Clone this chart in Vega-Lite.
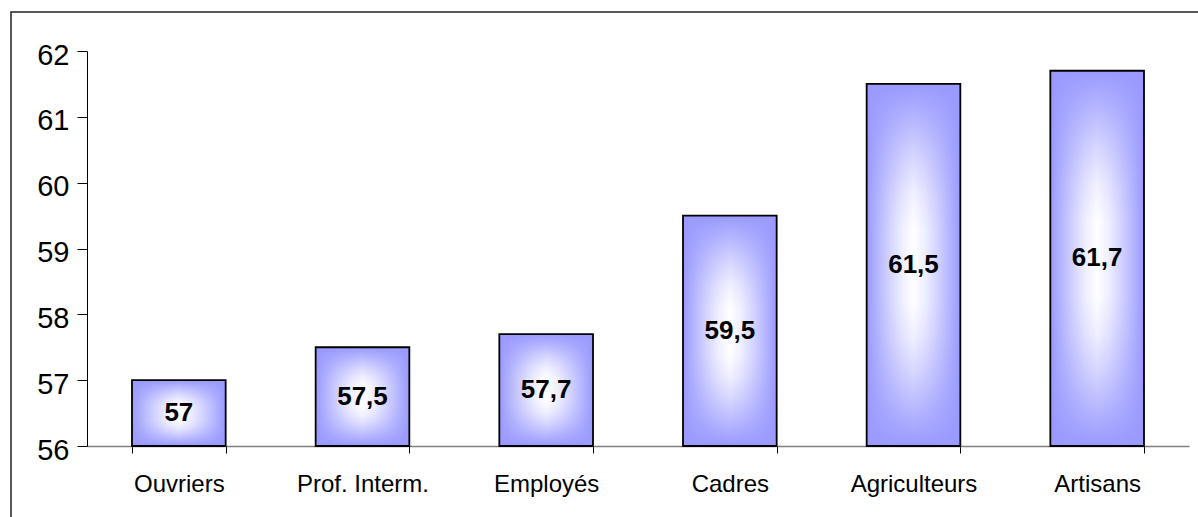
{
  "$schema": "https://vega.github.io/schema/vega-lite/v6.json",
  "autosize": "none",
  "width": 1191,
  "height": 509,
  "padding": {"left": 11, "top": 12, "right": -4, "bottom": -4},
  "background": "white",
  "config": {
    "view": {"stroke": "#222222", "strokeWidth": 1.5},
    "font": "Liberation Sans"
  },
  "data": {
    "values": [
      {"cat": "Ouvriers", "value": 57, "label": "57"},
      {"cat": "Prof. Interm.", "value": 57.5, "label": "57,5"},
      {"cat": "Employés", "value": 57.7, "label": "57,7"},
      {"cat": "Cadres", "value": 59.5, "label": "59,5"},
      {"cat": "Agriculteurs", "value": 61.5, "label": "61,5"},
      {"cat": "Artisans", "value": 61.7, "label": "61,7"}
    ]
  },
  "encoding": {
    "x": {
      "field": "cat",
      "type": "nominal",
      "sort": null,
      "scale": {"range": [76, 1178], "paddingInner": 0.49, "paddingOuter": 0.245},
      "axis": {
        "title": null,
        "offset": -75,
        "labelAngle": 0,
        "labelFontSize": 24,
        "labelColor": "black",
        "labelPadding": 19,
        "domainColor": "#808080",
        "domainWidth": 1.5,
        "tickColor": "black",
        "tickSize": 7,
        "tickWidth": 1,
        "tickBand": "extent",
        "grid": false
      }
    },
    "y": {
      "field": "value",
      "type": "quantitative",
      "scale": {"domain": [56, 62], "range": [434, 39], "nice": false, "zero": false},
      "axis": {
        "title": null,
        "offset": -76,
        "values": [56, 57, 58, 59, 60, 61, 62],
        "format": "d",
        "labelFontSize": 29,
        "labelColor": "black",
        "labelPadding": 8,
        "labelFlush": false,
        "labelOffset": 4,
        "domainColor": "black",
        "domainWidth": 1,
        "tickColor": "black",
        "tickSize": 10,
        "tickWidth": 1,
        "grid": false
      }
    }
  },
  "layer": [
    {
      "mark": {
        "type": "bar",
        "fill": {
          "gradient": "linear",
          "x1": 0, "y1": 0, "x2": 1, "y2": 0,
          "stops": [
            {"offset": 0, "color": "#9999ff"},
            {"offset": 0.125, "color": "#b7b7ff"},
            {"offset": 0.25, "color": "#d4d4ff"},
            {"offset": 0.375, "color": "#eeeeff"},
            {"offset": 0.5, "color": "#ffffff"},
            {"offset": 0.625, "color": "#eeeeff"},
            {"offset": 0.75, "color": "#d4d4ff"},
            {"offset": 0.875, "color": "#b7b7ff"},
            {"offset": 1, "color": "#9999ff"}
          ]
        },
        "strokeWidth": 0
      },
      "encoding": {"y2": {"datum": 56}}
    },
    {
      "mark": {
        "type": "bar",
        "fill": {
          "gradient": "linear",
          "x1": 0, "y1": 0, "x2": 0, "y2": 1,
          "stops": [
            {"offset": 0, "color": "rgba(153,153,255,1)"},
            {"offset": 0.1, "color": "rgba(153,153,255,0.7)"},
            {"offset": 0.2, "color": "rgba(153,153,255,0.4)"},
            {"offset": 0.3, "color": "rgba(153,153,255,0.15)"},
            {"offset": 0.4, "color": "rgba(153,153,255,0)"},
            {"offset": 0.6, "color": "rgba(153,153,255,0)"},
            {"offset": 0.7, "color": "rgba(153,153,255,0.15)"},
            {"offset": 0.8, "color": "rgba(153,153,255,0.4)"},
            {"offset": 0.9, "color": "rgba(153,153,255,0.7)"},
            {"offset": 1, "color": "rgba(153,153,255,1)"}
          ]
        },
        "stroke": "black",
        "strokeWidth": 1.8
      },
      "encoding": {"y2": {"datum": 56}}
    },
    {
      "transform": [{"calculate": "(datum.value + 56) / 2", "as": "mid"}],
      "mark": {"type": "text", "fontWeight": "bold", "fontSize": 26, "baseline": "middle", "color": "black"},
      "encoding": {
        "y": {"field": "mid", "type": "quantitative"},
        "text": {"field": "label"}
      }
    }
  ]
}
